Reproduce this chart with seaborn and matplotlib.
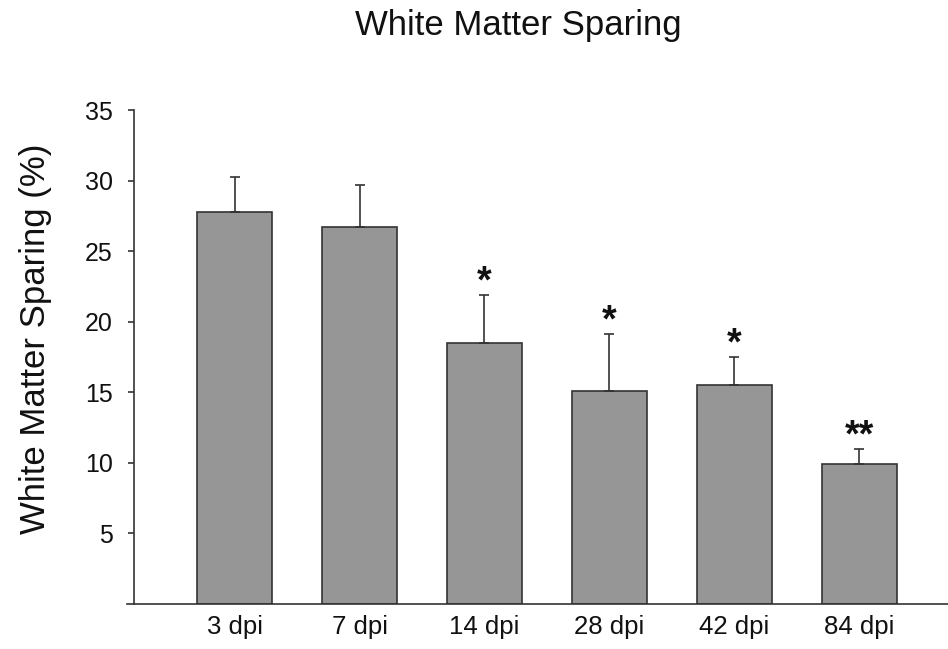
import matplotlib
matplotlib.use("Agg")
import matplotlib.pyplot as plt
import seaborn as sns
import numpy as np
import pandas as pd

categories = ["3 dpi", "7 dpi", "14 dpi", "28 dpi", "42 dpi", "84 dpi"]
means = [27.8, 26.7, 18.5, 15.1, 15.5, 9.9]
sem_up = [2.45, 3.0, 3.4, 4.0, 2.0, 1.07]
stars = ["", "", "*", "*", "*", "**"]
yticks = [5, 10, 15, 20, 25, 30, 35]

sns.set_theme(style="white")
plt.rcParams["font.family"] = ["Liberation Sans", "DejaVu Sans"]

df = pd.DataFrame({"group": categories, "value": means})

fig = plt.figure(figsize=(9.48, 6.49), dpi=100)
ax = fig.add_axes([127 / 948, 45 / 649, 821 / 948, 494 / 649])

sns.barplot(data=df, x="group", y="value", order=categories, color="#969696",
            edgecolor="#333333", linewidth=1.2, width=0.6, ax=ax, errorbar=None,
            saturation=1)

xs = np.arange(len(categories))
ax.errorbar(xs, means, yerr=[np.zeros(len(means)), sem_up], fmt="none",
            ecolor="#333333", elinewidth=1.2, capsize=3.6, capthick=1.2, zorder=3)

for x, m, e, s in zip(xs, means, sem_up, stars):
    if s:
        ax.annotate(s, xy=(x, m + e), xytext=(0, 2), textcoords="offset points",
                    ha="center", va="baseline", fontsize=27, fontweight="bold",
                    color="#111111")

ax.set_xlim(-0.861, 5.71)
ax.set_ylim(0, 35)
ax.set_yticks(yticks)
ax.set_yticklabels([str(t) for t in yticks])
ax.set_xlabel("")
ax.set_ylabel("")

ax.spines["top"].set_visible(False)
ax.spines["right"].set_visible(False)
ax.spines["left"].set_position(("data", -0.805))
ax.spines["left"].set_color("#333333")
ax.spines["bottom"].set_color("#333333")
ax.spines["left"].set_linewidth(1.2)
ax.spines["bottom"].set_linewidth(1.2)

ax.tick_params(axis="y", direction="out", length=4.3, width=1.2, color="#333333",
               labelsize=18, pad=11, left=True)
ax.tick_params(axis="x", length=0, labelsize=18.5, pad=8)
for lab in ax.get_xticklabels() + ax.get_yticklabels():
    lab.set_color("#111111")

fig.text(518 / 948, 1 - 35 / 649, "White Matter Sparing", ha="center",
         va="baseline", fontsize=25, color="#111111")
fig.text(36 / 948, 1 - 339 / 649, "White Matter Sparing (%)", rotation=90,
         ha="center", va="center", fontsize=25, color="#111111")

fig.savefig("out.png", dpi=100)
